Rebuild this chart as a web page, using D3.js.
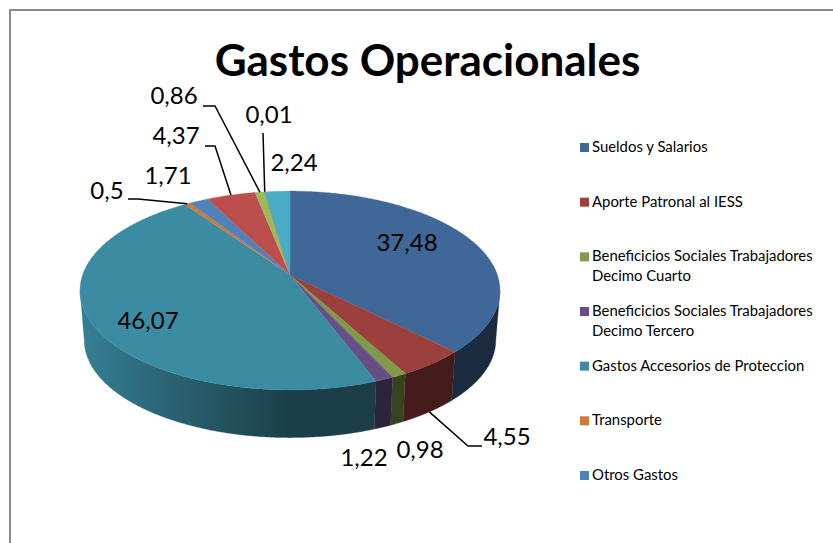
<!DOCTYPE html>
<html>
<head>
<meta charset="utf-8">
<script src="https://cdnjs.cloudflare.com/ajax/libs/d3/7.8.5/d3.min.js"></script>
<style>
  html, body { margin: 0; background: #fff; }
  svg { display: block; }
  text { font-family: Lato, "Open Sans", sans-serif; fill: #000; }
</style>
</head>
<body>
<div id="chart"></div>
<script>
const title = 'Gastos Operacionales';
const sliceValues = [37.48, 4.55, 0.98, 1.22, 46.07, 0.5, 1.71, 4.37, 0.86, 0.01, 2.24];
const sliceLabels = ['37,48', '4,55', '0,98', '1,22', '46,07', '0,5', '1,71', '4,37', '0,86', '0,01', '2,24'];
const sliceColors = ['#3f6797', '#9c403e', '#7f9a48', '#664f85', '#3b8ba3', '#ce7b35',
                     '#4f81bd', '#bc4f4d', '#9bbb59', '#8064a2', '#4bacc6'];
const legendNames = ['Sueldos y Salarios', 'Aporte Patronal al IESS',
                     'Beneficicios Sociales Trabajadores|Decimo Cuarto',
                     'Beneficicios Sociales Trabajadores|Decimo Tercero',
                     'Gastos Accesorios de Proteccion', 'Transporte', 'Otros Gastos'];
const legendColors = sliceColors.slice(0, 7);

// Where the labels sit, and the elbow of the leader when the slice has one.
const labelPos = [[407, 245], [507, 439], [420, 452], [364, 460], [148, 323], [107, 193],
                  [168, 178], [176, 138], [174, 98], [269, 117], [294, 165]];
const leaderElbows = [null, [[482, 446], [468, 446]], null, null, null,
                      [[128, 199], [138, 199]], null,
                      [[205, 146], [215, 146]], [[203, 106], [215, 106]], [[263, 133], [263, 133]], null];

const width = 833, height = 543;
const CX = 290, CY = 275;
// Perspective of the tilted disc.
const SCALE_X = 207.4, SCALE_Y = 97, TILT = 0.156;
const DEPTH = 50, BOTTOM_SHRINK = 0.98;

function ProjectTop(angle) {
  var u = Math.sin(angle), v = -Math.cos(angle);
  var w = 1 - TILT * v;
  return [CX + SCALE_X * u / w, CY + SCALE_Y * v / w];
}

function ProjectBottom(angle) {
  var p = ProjectTop(angle);
  return [CX + BOTTOM_SHRINK * (p[0] - CX), CY + BOTTOM_SHRINK * (p[1] - CY) + DEPTH];
}

var svg = d3.select('#chart').append('svg')
    .attr('width', width)
    .attr('height', height);

svg.append('path')
    .attr('d', 'M10,' + height + 'V10H' + width)
    .attr('fill', 'none')
    .attr('stroke', '#8c8c8c')
    .attr('stroke-width', 2);

svg.append('text')
    .attr('x', 427.5)
    .attr('y', 76)
    .attr('text-anchor', 'middle')
    .attr('font-size', 44)
    .attr('font-weight', 700)
    .text(title);

var slices = d3.pie().sort(null).value((d) => d)(sliceValues);
var line = d3.line();

// Wall shading goes dark from the left edge towards the middle.
var shade = d3.scaleLinear().domain([80, 130, 290, 500]).range([0.08, 0.2, 0.55, 0.58]).clamp(true);

var defs = svg.append('defs');
slices.forEach((s, i) => {
  var gradient = defs.append('linearGradient')
      .attr('id', 'wall' + i)
      .attr('gradientUnits', 'userSpaceOnUse')
      .attr('x1', 80)
      .attr('x2', 500)
      .attr('y1', 0)
      .attr('y2', 0);
  shade.domain().forEach((x) => {
    gradient.append('stop')
        .attr('offset', (x - 80) / 420)
        .attr('stop-color', d3.interpolateRgb(sliceColors[i], '#000')(shade(x)));
  });
});

var walls = svg.append('g');
slices.forEach((s, i) => {
  var n = Math.max(2, Math.ceil((s.endAngle - s.startAngle) / 0.005));
  // Only the part in front of the widest points of the disc shows, and its
  // closing edges are then the side silhouette.
  var angles = d3.range(n + 1)
      .map((k) => s.startAngle + (s.endAngle - s.startAngle) * k / n)
      .filter((a) => Math.cos(a) <= -TILT);
  if (angles.length < 2) return;
  var outline = angles.map(ProjectTop).concat(angles.slice().reverse().map(ProjectBottom));
  walls.append('path')
      .attr('d', line(outline) + 'Z')
      .attr('fill', 'url(#wall' + i + ')')
      .attr('stroke', 'url(#wall' + i + ')')
      .attr('stroke-width', 0.3);
});

var faces = svg.append('g');
slices.forEach((s, i) => {
  var n = Math.max(2, Math.ceil((s.endAngle - s.startAngle) / 0.01));
  var points = d3.range(n + 1).map((k) => ProjectTop(s.startAngle + (s.endAngle - s.startAngle) * k / n));
  faces.append('path')
      .attr('d', line([[CX, CY]].concat(points)) + 'Z')
      .attr('fill', sliceColors[i])
      .attr('stroke', sliceColors[i])
      .attr('stroke-width', 0.3);
});

var leaders = svg.append('g')
    .attr('fill', 'none')
    .attr('stroke', '#000')
    .attr('stroke-width', 1.5);
slices.forEach((s, i) => {
  if (!leaderElbows[i]) return;
  var mid = (s.startAngle + s.endAngle) / 2;
  // The leader of the front slice lands on the bottom rim of the wall.
  var end = Math.cos(mid) < 0 ? ProjectBottom(mid) : ProjectTop(mid);
  leaders.append('path').attr('d', line(leaderElbows[i].concat([end])));
});

svg.append('g').selectAll('text')
    .data(slices)
    .join('text')
    .attr('x', (d, i) => labelPos[i][0])
    .attr('y', (d, i) => labelPos[i][1])
    .attr('text-anchor', 'middle')
    .attr('dominant-baseline', 'middle')
    .attr('font-size', 24)
    .text((d, i) => sliceLabels[i]);

var legendY = d3.scalePoint().domain(d3.range(legendNames.length)).range([147, 475]);
var legend = svg.append('g').selectAll('g')
    .data(legendNames)
    .join('g')
    .attr('transform', (d, i) => 'translate(580,' + legendY(i) + ')');
legend.append('rect')
    .attr('y', -4)
    .attr('width', 9)
    .attr('height', 9)
    .attr('fill', (d, i) => legendColors[i]);
legend.append('text')
    .attr('x', 12)
    .attr('y', 5)
    .attr('font-size', 14.9)
    .selectAll('tspan')
    .data((d) => d.split('|'))
    .join('tspan')
    .attr('x', 12)
    .attr('dy', (d, i) => i ? 20 : 0)
    .text((d) => d);
</script>
</body>
</html>
